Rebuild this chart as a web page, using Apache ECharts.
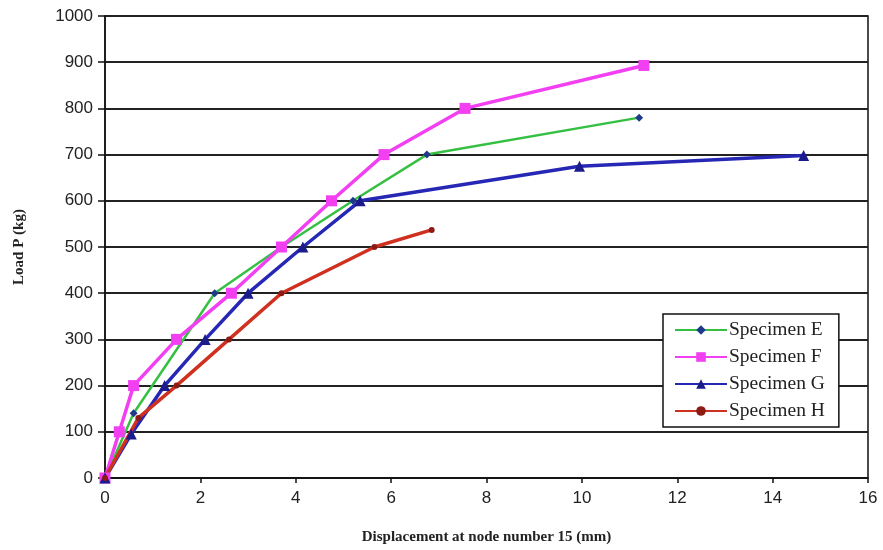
<!DOCTYPE html>
<html>
<head>
<meta charset="utf-8">
<script src="https://cdn.jsdelivr.net/npm/echarts@6/dist/echarts.min.js"></script>
<style>
  html, body { margin: 0; padding: 0; background: #fff; }
  #main { width: 883px; height: 550px; }
</style>
</head>
<body>
<div id="main"></div>
<script>
// displacement (mm), load (kg) pairs
var specimenE = [[0, 0], [0.6, 140], [2.3, 400], [3.7, 500], [5.2, 600], [6.75, 700], [11.2, 780]];
var specimenF = [[0, 0], [0.3, 100], [0.6, 200], [1.5, 300], [2.65, 400], [3.7, 500], [4.75, 600], [5.85, 700], [7.55, 800], [11.3, 893]];
var specimenG = [[0, 0], [0.55, 95], [1.25, 200], [2.1, 300], [3.0, 400], [4.15, 500], [5.35, 600], [9.95, 675], [14.65, 698]];
var specimenH = [[0, 0], [0.7, 130], [1.5, 200], [2.6, 300], [3.7, 400], [5.65, 500], [6.85, 537]];
var names = ['Specimen E', 'Specimen F', 'Specimen G', 'Specimen H'];

var chart = echarts.init(document.getElementById('main'));

function line(name, data, color, width, symbol, size, markColor) {
  return {
    name: name,
    type: 'line',
    data: data,
    symbol: symbol,
    symbolSize: size,
    lineStyle: { color: color, width: width },
    itemStyle: { color: markColor, borderWidth: 0 },
    emphasis: { disabled: true },
    animation: false
  };
}

chart.setOption({
  backgroundColor: '#fff',
  grid: {
    left: 105, right: 15, top: 16, bottom: 72,
    show: true, borderColor: '#111', borderWidth: 1.5, backgroundColor: 'transparent'
  },
  legend: {
    data: names,
    orient: 'vertical',
    left: 663, top: 314,
    padding: [6, 14, 6, 11],
    itemGap: 7,
    itemWidth: 52,
    itemHeight: 12,
    backgroundColor: '#fff',
    borderColor: '#111',
    borderWidth: 1.5,
    borderRadius: 0,
    textStyle: { fontFamily: 'Liberation Serif', fontSize: 19.5, color: '#222', padding: [0, 0, 0, -3] }
  },
  xAxis: {
    type: 'value',
    min: 0, max: 16, interval: 2,
    name: 'Displacement at node number 15 (mm)',
    nameLocation: 'middle',
    nameGap: 52,
    nameTextStyle: { fontFamily: 'Liberation Serif', fontWeight: 'bold', fontSize: 15, color: '#222' },
    axisLine: { lineStyle: { color: '#111', width: 1.5 } },
    axisTick: { show: true, length: 5, lineStyle: { color: '#111', width: 1.5 } },
    axisLabel: { fontFamily: 'Liberation Sans', fontSize: 17, color: '#222', margin: 12 },
    splitLine: { show: false }
  },
  yAxis: {
    type: 'value',
    min: 0, max: 1000, interval: 100,
    name: 'Load P (kg)',
    nameLocation: 'middle',
    nameGap: 78,
    nameTextStyle: { fontFamily: 'Liberation Serif', fontWeight: 'bold', fontSize: 15, color: '#222' },
    axisLine: { show: true, lineStyle: { color: '#111', width: 1.5 } },
    axisTick: { show: true, length: 7, lineStyle: { color: '#111', width: 1.5 } },
    axisLabel: { fontFamily: 'Liberation Sans', fontSize: 17, color: '#222', margin: 12,
      formatter: function (v) { return String(v); } },
    splitLine: { show: true, lineStyle: { color: '#222', width: 2 } }
  },
  series: [
    line(names[0], specimenE, '#36c043', 2.5, 'diamond', 8, '#1f3a8a'),
    line(names[1], specimenF, '#f23ff2', 3.5, 'rect', 11, '#f23ff2'),
    line(names[2], specimenG, '#2727b5', 3.5, 'triangle', 11, '#1b1b8c'),
    line(names[3], specimenH, '#d0301f', 3.5, 'circle', 6, '#8e1a14')
  ]
});

window.addEventListener('resize', function () {
  chart.resize();
});
</script>
</body>
</html>
